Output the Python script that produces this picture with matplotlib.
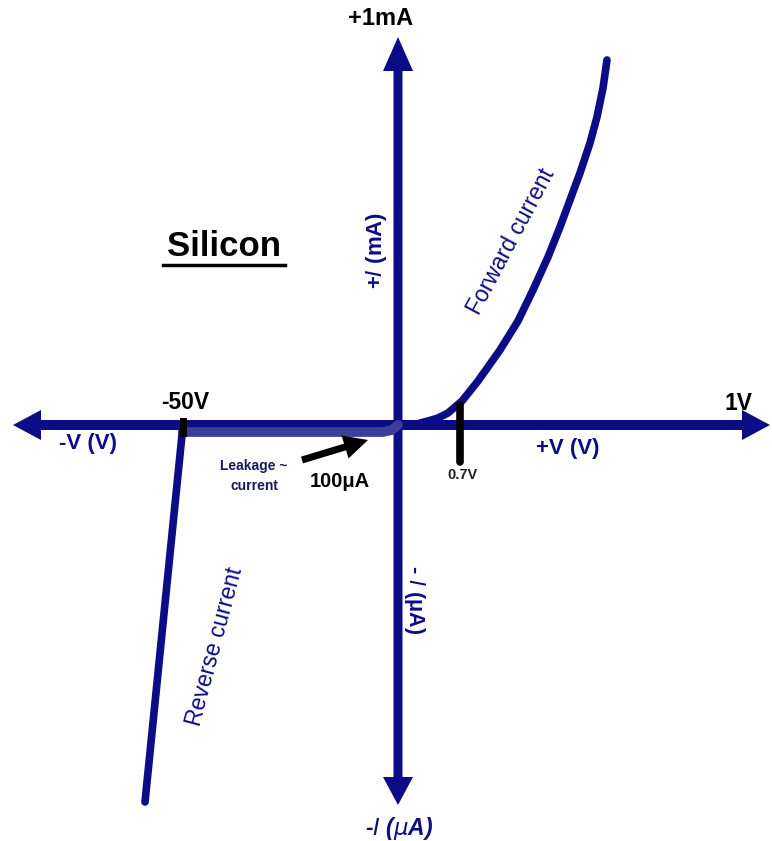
import matplotlib
matplotlib.use("Agg")
import matplotlib.pyplot as plt
from matplotlib.patches import FancyArrow

plt.rcParams['font.family'] = ['Liberation Sans', 'DejaVu Sans']

NAVY = '#0c0c86'
LEAK = '#3d3d9c'

# Schematic coordinates (origin at the axes crossing, y up)
forward_v = [22, 30, 40, 50, 64, 80, 102, 120, 135, 150, 162, 172, 182, 192, 199, 205, 209]
forward_i = [2, 4, 7, 12, 24, 44, 75, 104, 135, 168, 198, 225, 252, 282, 308, 337, 365]
reverse_v = [-215, -253]
reverse_i = [0, -377]
leak_v = [-215, -15, -6, 0]
leak_i = [-7, -7, -5, 0]

fig = plt.figure(figsize=(7.72, 8.41), dpi=100)
ax = fig.add_axes([0, 0, 1, 1])
ax.set_xlim(-398, 374)
ax.set_ylim(-416, 425)
ax.axis('off')

# Axes with arrowheads
ax.add_patch(FancyArrow(0, 0, 372, 0, width=10, head_width=30, head_length=28,
                        length_includes_head=True, color=NAVY, lw=0))
ax.add_patch(FancyArrow(0, 0, -385, 0, width=10, head_width=30, head_length=28,
                        length_includes_head=True, color=NAVY, lw=0))
ax.add_patch(FancyArrow(0, 0, 0, 388, width=9, head_width=30, head_length=34,
                        length_includes_head=True, color=NAVY, lw=0))
ax.add_patch(FancyArrow(0, 0, 0, -380, width=9, head_width=30, head_length=28,
                        length_includes_head=True, color=NAVY, lw=0))

# Leakage band
ax.plot(leak_v, leak_i, color=LEAK, lw=7, solid_capstyle='round', solid_joinstyle='round', zorder=3)
# Reverse current
ax.plot(reverse_v, reverse_i, color=NAVY, lw=5.5, solid_capstyle='round', zorder=4)
# Forward current
ax.plot(forward_v, forward_i, color=NAVY, lw=5.5, solid_capstyle='round', solid_joinstyle='round', zorder=4)

# Tick marks
ax.plot([62, 62], [20, -37], color='black', lw=5.5, solid_capstyle='round', zorder=5)
ax.plot([-215, -215], [4, -8], color='black', lw=5, zorder=5)

# Leakage arrow
ax.add_patch(FancyArrow(-96, -35, 66, 20, width=7, head_width=24, head_length=24,
                        length_includes_head=True, color='black', lw=0, zorder=6))

# Labels
ax.text(-17, 407, '+1mA', ha='center', va='center', fontsize=17, fontweight='bold')
ax.text(1, -403, r'-$\mathit{I}$ ($\mu$A)', ha='center', va='center', fontsize=16.5,
        fontweight='bold', style='italic', color=NAVY)
ax.text(-213, 23, '-50V', ha='center', va='center', fontsize=16.5, fontweight='bold')
ax.text(-310, -18, '-V (V)', ha='center', va='center', fontsize=16, fontweight='bold', color=NAVY)
ax.text(340, 22, '1V', ha='center', va='center', fontsize=16.5, fontweight='bold')
ax.text(170, -23, '+V (V)', ha='center', va='center', fontsize=16, fontweight='bold', color=NAVY)
ax.text(64, -50, '0.7V', ha='center', va='center', fontsize=10.5, fontweight='bold', color='#222222')
ax.text(-174, 179, 'Silicon', ha='center', va='center', fontsize=25, fontweight='bold')
ax.plot([-235, -113], [160, 160], color='black', lw=2.5)
ax.text(-22, 175, '+$\\mathit{I}$ (mA)', ha='center', va='center', fontsize=16, fontweight='bold',
        color=NAVY, rotation=90)
ax.text(16, -175, '- $\\mathit{I}$ (\u03bcA)', ha='center', va='center', fontsize=15.5, fontweight='bold',
        color=NAVY, rotation=-90)
ax.text(-144, -51, 'Leakage ~\ncurrent', ha='center', va='center', fontsize=10,
        fontweight='bold', color='#1a1a5a', linespacing=1.5)
ax.text(-58, -56, '100\u03bcA', ha='center', va='center', fontsize=14.5, fontweight='bold')
ax.text(113, 183, 'Forward current', ha='center', va='center', fontsize=16.5,
        color=NAVY, rotation=62)
ax.text(-183, -222, 'Reverse current', ha='center', va='center', fontsize=16.5,
        color=NAVY, rotation=75)

fig.savefig('out.png', dpi=100, facecolor='white')
